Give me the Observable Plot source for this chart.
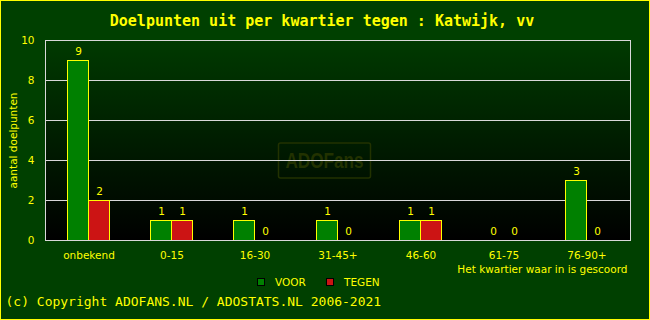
<!DOCTYPE html>
<html><head><meta charset="utf-8">
<script src="https://cdn.jsdelivr.net/npm/d3@7"></script>
<script src="https://cdn.jsdelivr.net/npm/@observablehq/plot@0.6"></script>
<style>
html,body{margin:0;padding:0;background:#004000;}
#wrap{position:relative;width:650px;height:320px;background:#004000;overflow:hidden;}
#wrap svg{position:absolute;left:0;top:0;}
#border{position:absolute;left:0;top:0;width:650px;height:320px;box-sizing:border-box;border:1px solid #ffff00;pointer-events:none;}
.leg{position:absolute;top:276px;font-family:"DejaVu Sans";font-size:10.5px;color:#ffff00;display:flex;align-items:center;height:12px;}
.sw{width:6px;height:6px;border:1px solid #000;margin-right:10px;}
</style></head>
<body><div id="wrap"></div>
<script>
const categories = ["onbekend","0-15","16-30","31-45+","46-60","61-75","76-90+"];
const voor = [9,1,1,1,1,0,3];
const tegen = [2,1,0,0,1,0,0];
const seriesNames = ["VOOR","TEGEN"];
const seriesColors = ["#008000","#cc1414"];
const yTicks = [0,2,4,6,8,10];
const gridTicks = [2,4,6,8];
const title = "Doelpunten uit per kwartier tegen : Katwijk, vv";
const yLabel = "aantal doelpunten";
const xLabel = "Het kwartier waar in is gescoord";
const copyright = "(c) Copyright ADOFANS.NL / ADOSTATS.NL 2006-2021";
const watermark = "ADOFans";

const yellow = "#ffff00";
const rowsVoor = categories.map((c,i)=>({cat:c, series:seriesNames[0], value:voor[i]}));
const rowsTegen = categories.map((c,i)=>({cat:c, series:seriesNames[1], value:tegen[i]}));

const W = 650, H = 320, mL = 45, mR = 20, mT = 40, mB = 80;
const step = (W - mL - mR) / categories.length;
const barW = 21;

const defsMark = () => {
  const d = d3.create("svg:defs");
  const lg = d.append("linearGradient").attr("id","bgGrad").attr("x1",0).attr("y1",0).attr("x2",0).attr("y2",1);
  lg.append("stop").attr("offset","0%").attr("stop-color","#003a00");
  lg.append("stop").attr("offset","100%").attr("stop-color","#000000");
  return d.node();
};
const wmMark = (index, scales, values, dim) => {
  const cx = (dim.marginLeft + dim.width - dim.marginRight)/2 - 13;
  const cy = (dim.marginTop + dim.height - dim.marginBottom)/2 + 20;
  const g = d3.create("svg:g");
  g.append("rect").attr("x", cx-46).attr("y", cy-17).attr("width",92).attr("height",35)
    .attr("rx",2).attr("fill","none").attr("stroke","#223200").attr("stroke-width",1.5);
  g.append("text").attr("x",cx).attr("y",cy).attr("text-anchor","middle").attr("dy","0.36em")
    .attr("font-family","Liberation Sans Narrow, Liberation Sans").attr("font-weight","bold")
    .attr("font-size",22).attr("textLength",78).attr("lengthAdjust","spacingAndGlyphs")
    .attr("fill","#223200").text(watermark);
  return g.node();
};

const chart = Plot.plot({
  width: W, height: H,
  marginLeft: mL, marginRight: mR, marginTop: mT, marginBottom: mB,
  style: {fontFamily: "DejaVu Sans", fontSize: "10.5px", color: yellow, background: "transparent", overflow: "visible"},
  x: {type: "band", domain: categories, padding: 0, label: null},
  y: {domain: [0, 10], label: null},
  marks: [
    defsMark,
    Plot.frame({fill: "url(#bgGrad)"}),
    wmMark,
    Plot.gridY(gridTicks, {stroke: "#d8d8d8", strokeOpacity: 1, shapeRendering: "crispEdges"}),
    Plot.barY(rowsVoor.filter(d=>d.value>0), {x:"cat", y:"value", fill: seriesColors[0], stroke: yellow, strokeWidth: 1,
      insetLeft: step/2 - barW, insetRight: step/2, shapeRendering: "crispEdges"}),
    Plot.barY(rowsTegen.filter(d=>d.value>0), {x:"cat", y:"value", fill: seriesColors[1], stroke: yellow, strokeWidth: 1,
      insetLeft: step/2, insetRight: step/2 - barW, shapeRendering: "crispEdges"}),
    Plot.text(rowsVoor, {x:"cat", y:"value", text: d=>String(d.value), dx: -barW/2, dy: -9, fill: yellow, fontSize: 10.5}),
    Plot.text(rowsTegen, {x:"cat", y:"value", text: d=>String(d.value), dx: barW/2, dy: -9, fill: yellow, fontSize: 10.5}),
    Plot.frame({stroke: "#d8d8d8", shapeRendering: "crispEdges"}),
    Plot.axisY({ticks: yTicks, tickSize: 0, tickPadding: 11, label: null, fill: yellow, fontSize: 10.5}),
    Plot.axisX({tickSize: 0, tickPadding: 11, label: null, fill: yellow, fontSize: 10.5}),
    Plot.text([yLabel], {text: d=>d, frameAnchor: "left", textAnchor: "middle", dx: -32, rotate: -90, fill: yellow, fontSize: 10.5}),
    Plot.text([xLabel], {text: d=>d, frameAnchor: "bottom-right", textAnchor: "end", dx: -3, dy: 32.5, fill: yellow, fontSize: 10.5}),
    Plot.text([title], {text: d=>d, frameAnchor: "top", dx: -16, dy: -25, fill: yellow, fontSize: 15, fontWeight: "bold", fontFamily: "DejaVu Sans Mono"}),
    Plot.text([copyright], {text: d=>d, frameAnchor: "bottom-left", textAnchor: "start", dx: -40, dy: 65, fill: yellow, fontSize: 13, fontFamily: "DejaVu Sans Mono"})
  ]
});
const wrap = document.getElementById("wrap");
wrap.appendChild(chart);
const legendLefts = [257, 326];
seriesNames.forEach((name, i) => {
  const item = document.createElement("div");
  item.className = "leg";
  item.style.left = legendLefts[i] + "px";
  const sw = document.createElement("div");
  sw.className = "sw";
  sw.style.background = seriesColors[i];
  item.appendChild(sw);
  item.appendChild(document.createTextNode(name));
  wrap.appendChild(item);
});
const b = document.createElement("div"); b.id = "border"; wrap.appendChild(b);
</script>
</body></html>
